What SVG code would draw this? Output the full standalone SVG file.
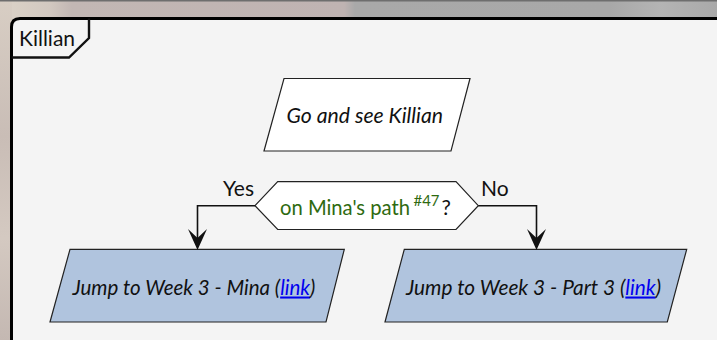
<svg xmlns="http://www.w3.org/2000/svg" width="717" height="340" viewBox="0 0 717 340">
<defs>
<linearGradient id="bg" x1="0" y1="0" x2="1" y2="0">
<stop offset="0" stop-color="#dcd3c8"/>
<stop offset="0.07" stop-color="#d2c8c0"/>
<stop offset="0.1" stop-color="#c2b7b4"/>
<stop offset="0.48" stop-color="#bfb3b2"/>
<stop offset="0.495" stop-color="#a9a9a9"/>
<stop offset="0.85" stop-color="#a8a8a8"/>
<stop offset="0.92" stop-color="#b4b4b4"/>
<stop offset="1" stop-color="#a9a9a9"/>
</linearGradient>
<linearGradient id="bgl" x1="0" y1="0" x2="0" y2="1">
<stop offset="0" stop-color="#d8cec4"/>
<stop offset="0.4" stop-color="#c9bdb6"/>
<stop offset="0.7" stop-color="#d4c9c1"/>
<stop offset="1" stop-color="#c4b8b2"/>
</linearGradient>
<style>
.shape{stroke:#222;stroke-width:1.2}
.io{fill:#b0c4de}
.plain{fill:#ffffff}
.lbl{font-family:Lato,"Liberation Sans",sans-serif;fill:#111}
.it{font-style:italic}
.green{fill:#2e6a10}
.conn{fill:none;stroke:#111;stroke-width:1.6}
.head{fill:#111;stroke:none}
.link{fill:#0000ee;text-decoration:underline}
</style>
</defs>
<rect x="0" y="0" width="717" height="340" fill="url(#bg)"/>
<rect x="0" y="0" width="12" height="340" fill="url(#bgl)"/>
<rect x="0" y="0" width="717" height="1.5" fill="#6e6e6e"/>
<g id="frame">
<path d="M11.5 345 L11.5 27 Q11.5 18.5 20 18.5 L722 18.5 L722 345 Z" fill="#f4f4f4" stroke="#000" stroke-width="3"/>
<path d="M11.5 57.5 L69 57.5 L89 38 L89 18.5" fill="none" stroke="#111" stroke-width="2.4"/>
<text class="lbl" x="19" y="45.5" font-size="21">Killian</text>
</g>
<g id="start">
<polygon class="shape plain" points="284,78.5 470,78.5 451,151 264,151"/>
<text class="lbl it" x="286.5" y="123" font-size="21.2">Go and see Killian</text>
</g>
<g id="decision">
<polygon class="shape plain" points="255,205.7 277.7,181.7 456,181.7 478.3,205.7 456,229.5 277.7,229.5"/>
<text class="lbl green" x="280" y="215" font-size="21" textLength="130" lengthAdjust="spacingAndGlyphs">on Mina's path</text>
<text class="lbl green" x="413.5" y="205.5" font-size="15" textLength="26" lengthAdjust="spacingAndGlyphs">#47</text>
<text class="lbl" x="441.5" y="215" font-size="21">?</text>
</g>
<g id="mina">
<polygon class="shape io" points="70,249.3 344.3,249.3 326,322 50,322"/>
<text class="lbl it" x="72.5" y="294.5" font-size="20.5">Jump to Week 3 - Mina (<tspan class="link">link</tspan>)</text>
</g>
<g id="part3">
<polygon class="shape io" points="404.3,249.3 686.7,249.3 667.3,322 385,322"/>
<text class="lbl it" x="406" y="294.5" font-size="20.8">Jump to Week 3 - Part 3 (<tspan class="link">link</tspan>)</text>
</g>
<g id="connectors">
<path class="conn" d="M255 205.7 L197.5 205.7 L197.5 240"/>
<polygon class="head" points="188,229 197.5,250 207,229 197.5,238"/>
<text class="lbl" x="223" y="196" font-size="21">Yes</text>
<path class="conn" d="M478.3 205.7 L536.5 205.7 L536.5 240"/>
<polygon class="head" points="527,229 536.5,250 546,229 536.5,238"/>
<text class="lbl" x="481" y="196" font-size="21">No</text>
</g>
</svg>
